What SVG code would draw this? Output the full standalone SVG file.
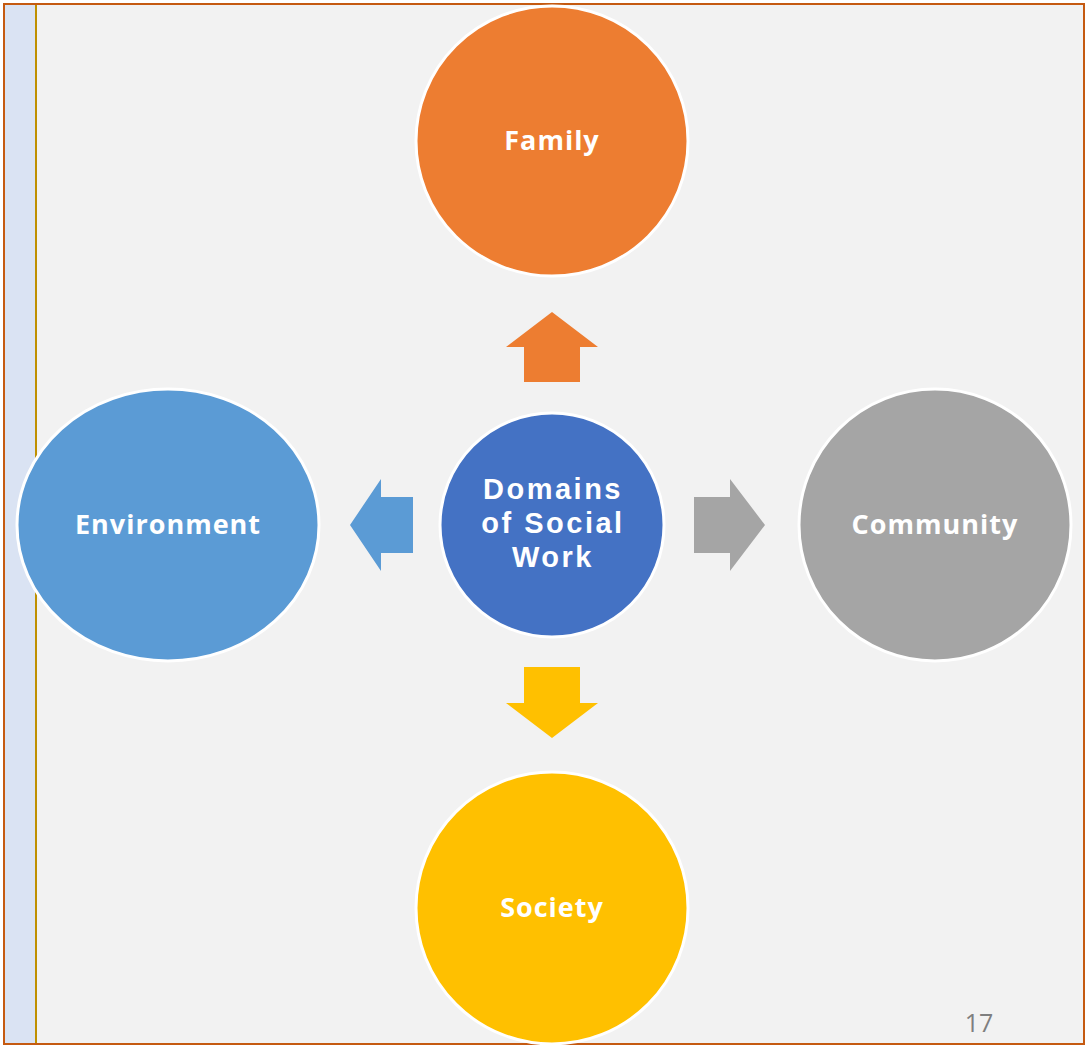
<svg xmlns="http://www.w3.org/2000/svg" width="1089" height="1046" viewBox="0 0 1089 1046">
<style>
.lbl{font-family:"Open Sans","Liberation Sans",sans-serif;font-weight:700;font-size:27px;letter-spacing:1px;fill:#FFFFFF;text-anchor:middle}
.ctr{font-family:"Liberation Sans",sans-serif;font-size:29px;letter-spacing:2.5px}
.node{stroke:#FFFFFF;stroke-width:3}
</style>
<rect x="0" y="0" width="1089" height="1046" fill="#FFFFFF"/>
<rect x="4" y="4" width="1080" height="1040" fill="#F2F2F2"/>
<rect x="4" y="4" width="32" height="1040" fill="#DAE3F3"/>
<line x1="36" y1="4" x2="36" y2="1044" stroke="#BF9000" stroke-width="2"/>
<rect x="4" y="4" width="1080" height="1040" fill="none" stroke="#C55A11" stroke-width="2"/>
<g id="connectors">
<polygon points="552,312 598,347 580,347 580,382 524,382 524,347 506,347" fill="#ED7D31"/>
<polygon points="350,525 381,479 381,497 413,497 413,553 381,553 381,571" fill="#5B9BD5"/>
<polygon points="765,525 730,479 730,497 694,497 694,553 730,553 730,571" fill="#A5A5A5"/>
<polygon points="552,738 598,703 580,703 580,667 524,667 524,703 506,703" fill="#FFC000"/>
</g>
<g id="family"><ellipse class="node" cx="552" cy="141" rx="136" ry="135" fill="#ED7D31"/><text class="lbl" x="552" y="150">Family</text></g>
<g id="environment"><ellipse class="node" cx="168" cy="525" rx="151" ry="136" fill="#5B9BD5"/><text class="lbl" x="168" y="534">Environment</text></g>
<g id="community"><ellipse class="node" cx="935" cy="525" rx="136" ry="136" fill="#A5A5A5"/><text class="lbl" x="935" y="534">Community</text></g>
<g id="society"><ellipse class="node" cx="552" cy="908" rx="136" ry="136" fill="#FFC000"/><text class="lbl" x="552" y="917">Society</text></g>
<g id="center"><circle class="node" cx="552" cy="525" r="112" fill="#4472C4"/><text class="lbl ctr" x="553" y="499">Domains</text><text class="lbl ctr" x="553" y="533">of Social</text><text class="lbl ctr" x="553" y="567">Work</text></g>
<text x="979" y="1032" font-family="'Open Sans','Liberation Sans',sans-serif" font-size="25" fill="#7F7F7F" text-anchor="middle">17</text>
</svg>
